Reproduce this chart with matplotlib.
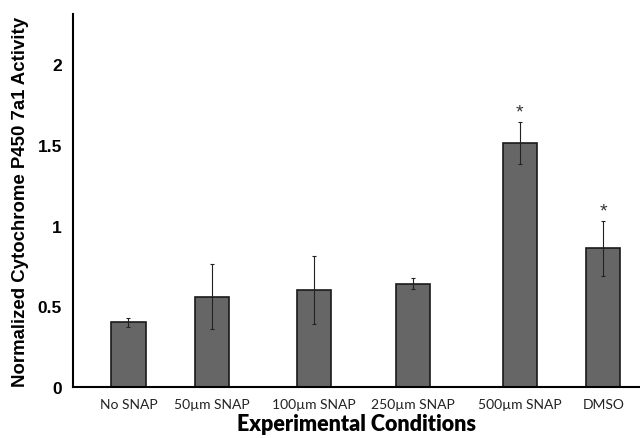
import matplotlib.pyplot as plt

# Data
conditions = ['No SNAP', '50\u00b5m SNAP', '100\u00b5m SNAP', '250\u00b5m SNAP', '500\u00b5m SNAP', 'DMSO']
activity = [0.40, 0.56, 0.60, 0.64, 1.51, 0.86]
errors = [0.03, 0.20, 0.21, 0.035, 0.13, 0.17]
significant = [False, False, False, False, True, True]

# Layout: bars are not evenly spaced in the original
positions = [0, 1.0, 2.22, 3.41, 4.69, 5.69]

fig = plt.figure(figsize=(6.4, 4.39), dpi=100)
ax = fig.add_axes([0.114, 0.116, 0.886, 0.85])

ax.bar(positions, activity, width=0.41, color='#666666', edgecolor='#1a1a1a',
       linewidth=1.2, zorder=2)
ax.errorbar(positions, activity, yerr=errors, fmt='none', ecolor='#222222',
            elinewidth=0.8, capsize=1.5, capthick=0.8, zorder=3)

for x, y, e, s in zip(positions, activity, errors, significant):
    if s:
        ax.text(x, y + e + 0.01, '*', ha='center', va='bottom', fontsize=14,
                color='#333333', family='Liberation Sans')

ax.set_xlim(-0.665, 6.13)
ax.set_ylim(0, 2.31)
ax.set_yticks([0, 0.5, 1, 1.5, 2])
ax.set_yticklabels(['0', '0.5', '1', '1.5', '2'], family='Liberation Sans',
                   fontweight='bold', fontsize=12.5)
ax.set_xticks(positions)
ax.set_xticklabels(conditions, family='Lato', fontsize=10, color='#222222')
ax.tick_params(axis='both', length=0)
ax.tick_params(axis='y', pad=8)
ax.tick_params(axis='x', pad=8)

ax.spines['top'].set_visible(False)
ax.spines['right'].set_visible(False)
ax.spines['left'].set_linewidth(1.5)
ax.spines['bottom'].set_linewidth(1.5)

ax.set_ylabel('Normalized Cytochrome P450 7a1 Activity', family='Liberation Sans',
              fontweight='bold', fontsize=13.4, labelpad=6)
ax.set_xlabel('Experimental Conditions', family='Lato', fontweight='heavy',
              fontsize=15.5, labelpad=2)

fig.savefig('out.png', dpi=100)
